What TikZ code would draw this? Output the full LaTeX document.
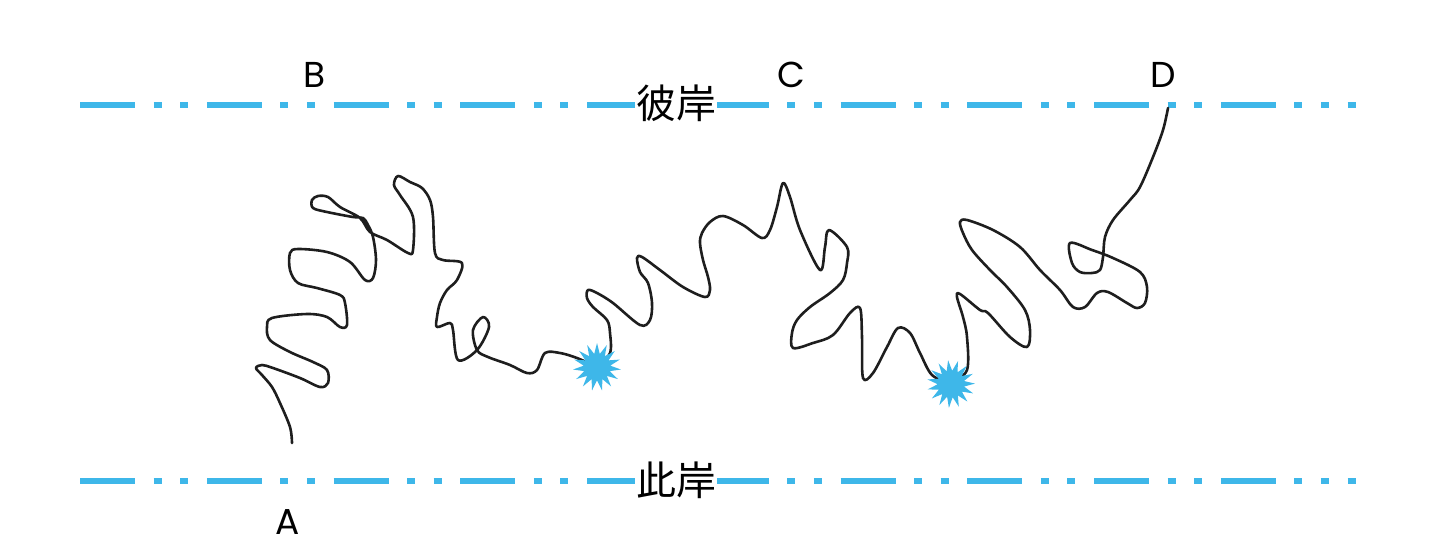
\documentclass[tikz,border=0pt]{standalone}
\usepackage{fontspec}
\setmainfont{Poppins}
\newfontfamily\cjk{Noto Sans CJK SC}
\usepackage{tikz}
\usetikzlibrary{shapes.geometric}
\definecolor{bankblue}{RGB}{62,183,233}
\definecolor{trackgray}{RGB}{30,30,30}

\begin{document}
\begin{tikzpicture}[x=1pt,y=-1pt,
    bank/.style={bankblue,line width=6.5pt,
      dash pattern=on 55pt off 18.5pt on 8pt off 18.5pt on 8pt off 18.75pt},
    bankname/.style={fill=white,inner sep=1pt,font=\cjk\fontsize{40}{44}\selectfont},
    point/.style={font=\fontsize{36}{40}\selectfont,inner sep=0pt},
    track/.style={trackgray,line width=2.6pt,line join=round,line cap=round},
    splat/.style={star,star points=15,star point ratio=1.8,minimum size=48pt,
      inner sep=0pt,fill=bankblue,draw=none}]
    \useasboundingbox (0,0) rectangle (1442,558);
    \coordinate (farW) at (80,105);
    \coordinate (farE) at (1356,105);
    \coordinate (nearW) at (80,481);
    \coordinate (nearE) at (1356,481);
    \draw[bank] (farW) -- (farE);
    \draw[bank] (nearW) -- (nearE);
    \node[bankname] (far) at (676,103) {彼岸};
    \node[bankname] (near) at (676,480) {此岸};
    \node[point] (A) at (288,522) {A};
    \node[point] (B) at (315,75) {B};
    \node[point] (C) at (791,75) {C};
    \node[point] (D) at (1163,75) {D};
    \coordinate (start) at (292,443);
    \coordinate (s1) at (597,367);
    \coordinate (s2) at (951,384);
    \coordinate (finish) at (1168,108);
    \draw[track] plot[smooth,tension=0.55] coordinates {(start) (290,427) (280,403)
      (272,387) (262,375) (256,368) (262,365) (273,368) (300,378) (320,387)
      (328,383) (327,370) (313,362) (290,352) (270,340) (267,327) (272,318)
      (307,314) (327,317) (340,327) (347,325) (345,303) (340,295) (317,288)
      (298,283) (290,270) (290,253) (298,249) (327,252) (350,262) (365,280)
      (373,278) (376,260) (373,237) (368,225) (363,218) (353,217) (327,212)
      (313,208) (312,200) (318,196) (328,197) (340,207) (360,218) (370,232)
      (387,240) (408,253) (413,250) (413,217) (400,195) (394,185) (398,176)
      (410,182) (422,188) (430,200) (433,217) (435,253) (443,260) (462,263)
      (457,280) (447,290) (440,303) (437,317) (437,327) (450,323) (453,330)
      (458,360) (477,350) (489,327) (483,317) (473,330) (477,350) (488,357)
      (510,365) (527,373) (537,370) (545,353) (560,353) (577,358) (s1)};
    \draw[track] plot[smooth,tension=0.55] coordinates {(s1) (610,353) (610,333)
      (607,320) (593,307) (587,298) (588,290) (597,293) (613,303) (640,325)
      (650,320) (652,303) (648,283) (640,272) (637,258) (642,257) (660,270)
      (683,287) (705,297) (710,290) (708,277) (703,260) (700,243) (702,233)
      (710,222) (723,216) (743,225) (762,238) (770,230) (777,207) (783,183)
      (790,197) (800,230) (820,270) (825,247) (829,230) (847,247) (847,263)
      (843,280) (830,293) (810,307) (797,320) (792,333) (793,348) (813,343)
      (833,335) (850,313) (860,308) (862,337) (863,378) (873,373) (887,347)
      (898,328) (910,333) (920,353) (932,375) (s2)};
    \draw[track] plot[smooth,tension=0.55] coordinates {(s2) (967,370) (967,337)
      (963,317) (957,297) (960,294) (980,310) (988,313) (1010,337) (1027,347)
      (1030,330) (1025,310) (1007,287) (990,270) (972,250) (963,233) (960,222)
      (967,220) (993,230) (1020,247) (1040,270) (1060,290) (1073,307) (1085,307)
      (1097,293) (1108,292) (1127,303) (1137,308) (1145,303) (1147,287)
      (1140,272) (1113,258) (1092,250) (1070,243) (1072,263) (1080,272)
      (1092,273) (1100,270) (1103,257) (1105,237) (1113,220) (1130,200)
      (1140,187) (1153,157) (1163,130) (finish)};
    \node[splat] (splatA) at (s1) {};
    \node[splat,rotate=7] (splatB) at (s2) {};
  \end{tikzpicture}
\end{document}
